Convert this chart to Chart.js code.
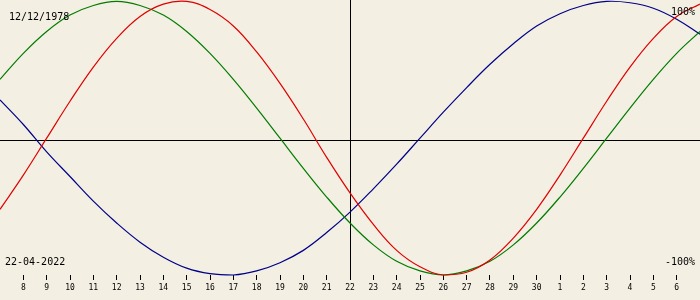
<!DOCTYPE html>
<html>
<head>
<meta charset="utf-8">
<script src="https://cdn.jsdelivr.net/npm/chart.js@4.4.1/dist/chart.umd.min.js"></script>
<style>
    html, body { margin: 0; padding: 0; background: #f3efe3; }
    #wrap { width: 700px; height: 300px; position: relative; }
</style>
</head>
<body>
<div id="wrap"><canvas id="bioChart"></canvas></div>
<script>
// Day of month for each point (22-04-2022 +/- 15 days)
const days = ['7', '8', '9', '10', '11', '12', '13', '14', '15', '16', '17', '18', '19', '20', '21', '22',
    '23', '24', '25', '26', '27', '28', '29', '30', '1', '2', '3', '4', '5', '6', '7'];

// Values, -1 .. 1
const physical = [-0.52, -0.27, 0, 0.27, 0.52, 0.73, 0.89, 0.98, 1.00, 0.94, 0.82, 0.63, 0.40, 0.14, -0.14, -0.40,
    -0.63, -0.82, -0.94, -1.00, -0.98, -0.89, -0.73, -0.52, -0.27, 0, 0.27, 0.52, 0.73, 0.89, 0.98];
const emotional = [0.43, 0.62, 0.78, 0.90, 0.97, 1.00, 0.97, 0.90, 0.78, 0.62, 0.43, 0.22, 0, -0.22, -0.43, -0.62,
    -0.78, -0.90, -0.97, -1.00, -0.97, -0.90, -0.78, -0.62, -0.43, -0.22, 0, 0.22, 0.43, 0.62, 0.78];
const intellectual = [0.28, 0.10, -0.10, -0.28, -0.46, -0.62, -0.76, -0.87, -0.95, -0.99, -1.00, -0.97, -0.91, -0.82, -0.69, -0.54,
    -0.37, -0.19, 0, 0.19, 0.37, 0.54, 0.69, 0.82, 0.91, 0.97, 1.00, 0.99, 0.95, 0.87, 0.76];

const birthDate = '12/12/1978';
const currentDate = '22-04-2022';
const todayIndex = 15;

const textFont = '10px "DejaVu Sans Mono", monospace';

// Axis lines and corner texts
const overlayPlugin = {
    id: 'overlay',
    beforeDatasetsDraw(chart) {
        const { ctx, chartArea, scales } = chart;
        const midY = Math.round(chart.height / 2) - 10 + 0.5;
        const todayX = Math.round(scales.x.getPixelForValue(todayIndex)) + 0.5;
        ctx.save();
        ctx.strokeStyle = '#000';
        ctx.lineWidth = 1;
        ctx.beginPath();
        ctx.moveTo(0, midY);
        ctx.lineTo(chart.width, midY);
        ctx.moveTo(todayX, 0);
        ctx.lineTo(todayX, chartArea.bottom + 5);
        ctx.stroke();
        ctx.restore();
    },
    afterDraw(chart) {
        const ctx = chart.ctx;
        ctx.save();
        ctx.font = textFont;
        ctx.fillStyle = '#000';
        ctx.textBaseline = 'middle';
        ctx.textAlign = 'left';
        ctx.fillText(birthDate, 9, 17);
        ctx.fillText(currentDate, 5, 262);
        ctx.textAlign = 'right';
        ctx.fillText('100%', 695, 12);
        ctx.fillText('-100%', 695, 262);
        ctx.restore();
    }
};

const isEnd = (i) => i === 0 || i === days.length - 1;

new Chart(document.getElementById('bioChart'), {
    type: 'line',
    data: {
        labels: days,
        datasets: [
            {
                label: 'Physical',
                data: physical,
                borderColor: '#e00000',
                borderWidth: 1.2,
                pointRadius: 0,
                tension: 0.4,
                clip: false
            },
            {
                label: 'Emotional',
                data: emotional,
                borderColor: '#007c00',
                borderWidth: 1.2,
                pointRadius: 0,
                tension: 0.4,
                clip: false
            },
            {
                label: 'Intellectual',
                data: intellectual,
                borderColor: '#000088',
                borderWidth: 1.2,
                pointRadius: 0,
                tension: 0.4,
                clip: false
            }
        ]
    },
    options: {
        responsive: true,
        maintainAspectRatio: false,
        animation: false,
        layout: { padding: 0 },
        plugins: {
            legend: { display: false },
            tooltip: { enabled: false }
        },
        scales: {
            x: {
                offset: false,
                border: { display: false },
                grid: {
                    drawOnChartArea: false,
                    tickLength: 5,
                    tickColor: (c) => isEnd(c.index) ? 'rgba(0,0,0,0)' : '#000',
                    tickWidth: 1
                },
                ticks: {
                    autoSkip: false,
                    maxRotation: 0,
                    padding: 3,
                    color: '#000',
                    font: { family: '"DejaVu Sans Mono", monospace', size: 8 },
                    callback: (v, i) => isEnd(i) ? '' : days[i]
                },
                afterFit: (scale) => {
                    scale.height = 25;
                    scale.paddingLeft = 0;
                    scale.paddingRight = 0;
                }
            },
            y: {
                display: false,
                min: -1,
                max: 1.01
            }
        }
    },
    plugins: [overlayPlugin]
});
</script>
</body>
</html>
